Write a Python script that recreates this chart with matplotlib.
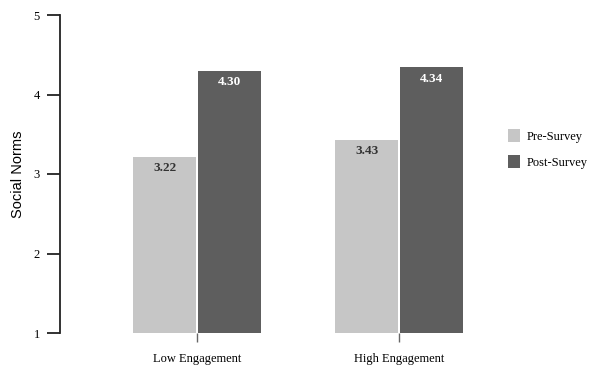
import matplotlib.pyplot as plt
import numpy as np

groups = ["Low Engagement", "High Engagement"]
pre_survey = [3.22, 3.43]
post_survey = [4.30, 4.34]
series_names = ["Pre-Survey", "Post-Survey"]
y_ticks = [1, 2, 3, 4, 5]

pre_color = "#c6c6c6"
post_color = "#5e5e5e"
serif = "Liberation Serif"

fig = plt.figure(figsize=(5.92, 3.66), dpi=100)
ax = fig.add_axes([60 / 592, 1 - 333 / 366, 420 / 592, 318 / 366])

x = np.arange(len(groups))
w = 0.313
b1 = ax.bar(x - 0.16, np.array(pre_survey) - 1, w, bottom=1, color=pre_color, label=series_names[0])
b2 = ax.bar(x + 0.16, np.array(post_survey) - 1, w, bottom=1, color=post_color, label=series_names[1])

for bars, vals, col in [(b1, pre_survey, "#333333"), (b2, post_survey, "white")]:
    for r, v in zip(bars, vals):
        ax.text(r.get_x() + r.get_width() / 2, v - 0.07, f"{v:.2f}", ha="center", va="top",
                fontsize=9.5, fontweight="bold", color=col, family=serif)

ax.set_xlim(-0.678, 1.40)
ax.set_ylim(1, 5)
ax.set_yticks(y_ticks)
ax.set_xticks(x)
ax.set_xticklabels(groups, family=serif, fontsize=9)
for lab in ax.get_yticklabels():
    lab.set_family(serif)
    lab.set_fontsize(9)

for s in ["top", "right", "bottom"]:
    ax.spines[s].set_visible(False)
ax.spines["left"].set_linewidth(1.3)
ax.spines["left"].set_color("#222222")
ax.tick_params(axis="y", length=9.5, width=1.3, color="#222222", pad=5)
ax.tick_params(axis="x", length=6.5, width=1, color="#666666", pad=8)
ax.set_ylabel("Social Norms", family="Liberation Sans", fontsize=10.5, labelpad=6)

fig.legend(handles=[b1, b2], labels=series_names, loc="center left", bbox_to_anchor=(497 / 592, 1 - 149 / 366),
           frameon=False, handlelength=0.95, handleheight=1.2, handletextpad=0.55, labelspacing=1.0,
           prop={"family": serif, "size": 9})

fig.savefig("out.png", dpi=100)
